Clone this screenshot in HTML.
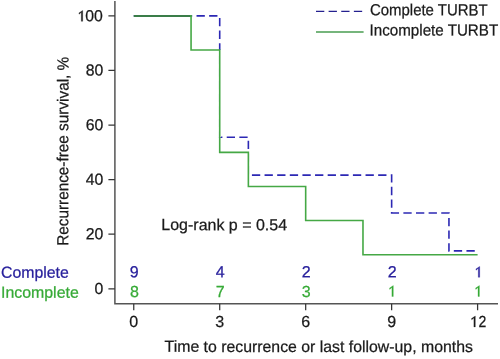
<!DOCTYPE html>
<html><head><meta charset="utf-8">
<style>
html,body{margin:0;padding:0;background:#fff;}
body{width:500px;height:359px;overflow:hidden;}
svg{display:block;will-change:transform;}
text{font-family:"Liberation Sans",sans-serif;font-size:16px;fill:#1a1a1a;stroke:#1a1a1a;stroke-width:0.25px;}
</style></head>
<body>
<svg width="500" height="359" viewBox="0 0 500 359">
<g fill="none" stroke="#555">
<path id="axis" d="M114.90 1 V303.80 H498" stroke-width="1.5"/>
<path id="yticks" d="M108.40 15.90 H114.90 M108.40 70.48 H114.90 M108.40 125.06 H114.90 M108.40 179.64 H114.90 M108.40 234.22 H114.90 M108.40 288.80 H114.90" stroke-width="1.25" stroke="#363636"/>
<path id="xticks" d="M133.75 303.80 V310.30 M219.71 303.80 V310.30 M305.68 303.80 V310.30 M391.64 303.80 V310.30 M477.60 303.80 V310.30" stroke-width="1.25" stroke="#363636"/>
</g>
<text id="y100" x="85.25" y="21.2" transform="rotate(0.05 85.25 21.2)" textLength="17.55" lengthAdjust="spacingAndGlyphs">00</text>
<path id="one100" d="M78.90 12.90 L82.70 10.40 V21.30 H81.30 V12.30 L79.10 14.20 Z" fill="#1a1a1a" stroke="#1a1a1a" stroke-width="0.3" stroke-linejoin="round"/>
<text id="y80" x="85.85" y="75.61" transform="rotate(0.05 85.85 75.61)" textLength="17.55" lengthAdjust="spacingAndGlyphs">80</text>
<text id="y60" x="85.85" y="130.19" transform="rotate(0.05 85.85 130.19)" textLength="17.55" lengthAdjust="spacingAndGlyphs">60</text>
<text id="y40" x="85.85" y="184.77" transform="rotate(0.05 85.85 184.77)" textLength="17.55" lengthAdjust="spacingAndGlyphs">40</text>
<text id="y20" x="85.85" y="239.35" transform="rotate(0.05 85.85 239.35)" textLength="17.55" lengthAdjust="spacingAndGlyphs">20</text>
<text id="y0" x="94.62" y="293.93" transform="rotate(0.05 94.62 293.93)" textLength="8.78" lengthAdjust="spacingAndGlyphs">0</text>
<text id="x0" x="129.28" y="327.08" transform="rotate(0.05 129.28 327.08)">0</text>
<text id="x3" x="215.24" y="327.08" transform="rotate(0.05 215.24 327.08)">3</text>
<text id="x6" x="301.21" y="327.08" transform="rotate(0.05 301.21 327.08)">6</text>
<text id="x9" x="387.17" y="327.08" transform="rotate(0.05 387.17 327.08)">9</text>
<text id="x12" x="478.5" y="327.0" transform="rotate(0.05 478.5 327.0)" textLength="7.8" lengthAdjust="spacingAndGlyphs">2</text>
<path id="one12" d="M471.50 318.50 L475.30 316.00 V326.90 H473.90 V317.90 L471.70 319.80 Z" fill="#1a1a1a" stroke="#1a1a1a" stroke-width="0.3" stroke-linejoin="round"/>
<text id="xtitle" x="164.6" y="351.85" transform="rotate(0.05 164.6 351.85)" textLength="308.3" lengthAdjust="spacingAndGlyphs">Time to recurrence or last follow-up, months</text>
<text id="ytitle" transform="translate(68.25,245.85) rotate(-89.95)" x="0" y="0" textLength="189.05" lengthAdjust="spacingAndGlyphs">Recurrence-free survival, %</text>
<text id="logrank" x="161.35" y="230.1" transform="rotate(0.05 161.35 230.1)" textLength="125.75" lengthAdjust="spacingAndGlyphs">Log-rank p = 0.54</text>
<path id="blue" d="M133.75 15.90 H219.71 V137.19 H248.37 V175.09 H391.64 V212.99 H448.95 V250.90 H477.60" fill="none" stroke="#2c28b4" stroke-width="1.6" stroke-dasharray="8.3 4.323" stroke-dashoffset="0.335"/>
<path id="under" d="M219.71 50.01 V137.19 M248.37 152.35 V175.09" fill="none" stroke="#fff" stroke-width="2.8"/>
<path id="gtop" d="M133.75 15.95 H191.06" fill="none" stroke="#3a7d48" stroke-width="1.9"/>
<path id="green" d="M191.06 15.10 V50.01 H219.71 V152.35 H248.37 V186.46 H305.68 V220.57 H362.98 V254.69 H477.60" fill="none" stroke="#45a845" stroke-width="1.6"/>
<path id="lblue" d="M316 11.4 H362.4" stroke="#24208f" stroke-width="1.4" stroke-dasharray="8.3 4.323"/>
<path id="lgreen" d="M316 31.9 H363.6" stroke="#489c50" stroke-width="1.5"/>
<text id="leg1" x="369.95" y="15.3" transform="rotate(0.05 369.95 15.3)" textLength="117.7" lengthAdjust="spacingAndGlyphs">Complete TURBT</text>
<text id="leg2" x="369.55" y="35.4" transform="rotate(0.05 369.55 35.4)" textLength="128.65" lengthAdjust="spacingAndGlyphs">Incomplete TURBT</text>
<text id="rcomp" x="1.05" y="277.65" transform="rotate(0.05 1.05 277.65)" textLength="67.75" lengthAdjust="spacingAndGlyphs" style="fill:#28209c;stroke:#28209c">Complete</text>
<text id="rinc" x="1.0" y="297.75" transform="rotate(0.05 1.0 297.75)" textLength="77.75" lengthAdjust="spacingAndGlyphs" style="fill:#36aa36;stroke:#36aa36">Incomplete</text>
<text id="b0" x="129.81" y="277.36" transform="rotate(0.05 129.81 277.36)" style="fill:#28209c;stroke:#28209c">9</text>
<text id="b3" x="215.82" y="277.36" transform="rotate(0.05 215.82 277.36)" style="fill:#28209c;stroke:#28209c">4</text>
<text id="b6" x="301.78" y="277.36" transform="rotate(0.05 301.78 277.36)" style="fill:#28209c;stroke:#28209c">2</text>
<text id="b9" x="387.74" y="277.36" transform="rotate(0.05 387.74 277.36)" style="fill:#28209c;stroke:#28209c">2</text>
<path id="b12" d="M475.90 268.90 L479.70 266.40 V277.30 H478.30 V268.30 L476.10 270.20 Z" fill="#28209c" stroke="#28209c" stroke-width="0.3" stroke-linejoin="round"/>
<text id="g0" x="129.9" y="296.93" transform="rotate(0.05 129.9 296.93)" style="fill:#36aa36;stroke:#36aa36">8</text>
<text id="g3" x="215.82" y="296.93" transform="rotate(0.05 215.82 296.93)" style="fill:#36aa36;stroke:#36aa36">7</text>
<text id="g6" x="301.78" y="296.93" transform="rotate(0.05 301.78 296.93)" style="fill:#36aa36;stroke:#36aa36">3</text>
<path id="g9" d="M389.50 288.10 L393.30 285.60 V296.50 H391.90 V287.50 L389.70 289.40 Z" fill="#36aa36" stroke="#36aa36" stroke-width="0.3" stroke-linejoin="round"/>
<path id="g12" d="M475.60 288.10 L479.40 285.60 V296.50 H478.00 V287.50 L475.80 289.40 Z" fill="#36aa36" stroke="#36aa36" stroke-width="0.3" stroke-linejoin="round"/>
</svg>
</body></html>
